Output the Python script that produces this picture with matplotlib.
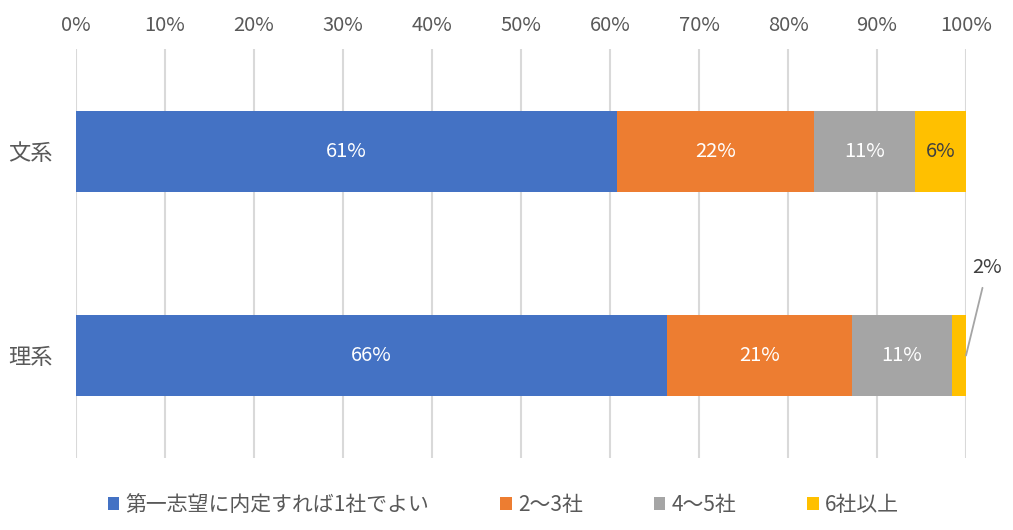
import matplotlib
matplotlib.use("Agg")
import matplotlib.pyplot as plt
import numpy as np

plt.rcParams['font.family'] = ['Noto Sans CJK JP', 'DejaVu Sans']

# データ(%)
groups = ['文系', '理系']
series = ['第一志望に内定すれば1社でよい', '2〜3社', '4〜5社', '6社以上']
bunkei = [60.8, 22.1, 11.4, 5.7]
rikei = [66.4, 20.8, 11.2, 1.6]
colors = ['#4472C4', '#ED7D31', '#A5A5A5', '#FFC000']
label_colors = ['white', 'white', 'white', '#404040']

values = np.array([bunkei, rikei])
ypos = np.arange(len(groups))
txt = '#595959'

fig = plt.figure(figsize=(10.13, 5.30), dpi=100)
ax = fig.add_axes([76 / 1013, 1 - 457.5 / 530, 890 / 1013, 408 / 530])

left = np.zeros(len(groups))
for j, name in enumerate(series):
    bars = ax.barh(ypos, values[:, j], left=left, height=0.4, color=colors[j],
                   label=name, zorder=3)
    for i, b in enumerate(bars):
        v = values[i, j]
        if v < 3:
            # 外側ラベル + 引き出し線
            x_end = left[i] + v
            ax.annotate(f'{v:.0f}%', xy=(x_end, ypos[i]), xytext=(102.4, ypos[i] - 0.43),
                        ha='center', va='center', fontsize=14.5, color='#404040',
                        arrowprops=dict(arrowstyle='-', color='#A5A5A5', lw=1.3,
                                        shrinkA=5, shrinkB=0),
                        annotation_clip=False)
        else:
            ax.text(left[i] + v / 2, ypos[i], f'{v:.0f}%', ha='center', va='center',
                    fontsize=14.5, color=label_colors[j], zorder=4)
    left += values[:, j]

ax.set_xlim(0, 100)
ax.set_ylim(1.5, -0.5)
ax.set_xticks(np.arange(0, 101, 10))
ax.set_xticklabels([f'{t}%' for t in range(0, 101, 10)])
ax.xaxis.tick_top()
ax.set_yticks(ypos)
ax.set_yticklabels(groups)
ax.tick_params(axis='both', length=0, labelsize=14.5, colors=txt)
ax.tick_params(axis='x', pad=10)
ax.tick_params(axis='y', pad=17, labelsize=16)
ax.grid(axis='x', color='#D9D9D9', lw=1.5, zorder=0)
for s in ax.spines.values():
    s.set_visible(False)

leg = fig.legend(loc='center', bbox_to_anchor=(0.497, 1 - 505 / 530), ncol=4,
                 frameon=False, fontsize=15, handlelength=0.55, handleheight=0.55,
                 handletextpad=0.3, columnspacing=3.4)
for t in leg.get_texts():
    t.set_color(txt)

fig.savefig('out.png', dpi=100)
